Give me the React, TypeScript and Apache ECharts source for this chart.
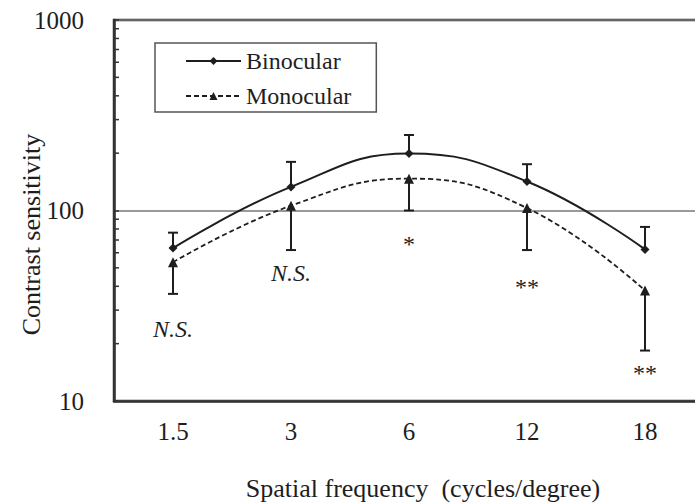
import React, { useEffect, useRef } from "react";
import * as echarts from "echarts";

const categories = ["1.5", "3", "6", "12", "18"];
const binocular = [63.5, 133, 199, 142, 62.5];
const monocular = [53.5, 106, 147, 103, 38];
const binocularUpper = [76.5, 180, 249, 175, 82];
const monocularLower = [36.5, 62, 100, 62, 18.4];
const yMinorTicks = [20, 30, 40, 50, 60, 70, 80, 90, 200, 300, 400, 500, 600, 700, 800, 900];
const annotationCats = [0, 1, 2, 3, 4];
const annotationLevels = [24, 47, 67, 39.5, 14];
const annotationTexts = ["N.S.", "N.S.", "*", "**", "**"];
const annotationItalic = [true, true, false, false, false];

const FONT = "Liberation Serif";
const INK = "#1e1e1e";

export default function App() {
  const ref = useRef<HTMLDivElement>(null);
  useEffect(() => {
    if (!ref.current) return;
    const chart = echarts.init(ref.current, undefined, { renderer: "svg" });

    const errRender = (params: any, api: any) => {
      const x = api.value(0);
      const p0 = api.coord([x, api.value(1)]);
      const p1 = api.coord([x, api.value(2)]);
      const st = { stroke: INK, lineWidth: 2 };
      return {
        type: "group",
        children: [
          { type: "line", shape: { x1: p0[0], y1: p0[1], x2: p1[0], y2: p1[1] }, style: st },
          { type: "line", shape: { x1: p1[0] - 5, y1: p1[1], x2: p1[0] + 5, y2: p1[1] }, style: st },
        ],
      };
    };

    chart.setOption({
      animation: false,
      backgroundColor: "#ffffff",
      textStyle: { fontFamily: FONT, color: INK },
      grid: {
        left: 114,
        top: 20,
        width: 590,
        height: 381,
        show: true,
        borderColor: "#333",
        borderWidth: 2.5,
        containLabel: false,
        outerBoundsMode: "none",
      },
      legend: {
        left: 155,
        top: 43,
        orient: "vertical",
        data: ["Binocular", "Monocular"],
        padding: [6, 25, 4, 30],
        itemGap: 11,
        itemWidth: 55,
        itemHeight: 10,
        borderColor: "#555",
        borderWidth: 1.5,
        borderRadius: 0,
        textStyle: { fontFamily: FONT, fontSize: 24, color: INK },
      },
      xAxis: {
        type: "category",
        data: categories,
        boundaryGap: true,
        axisLine: { show: true, lineStyle: { color: "#333", width: 2.5 } },
        axisTick: { show: false },
        axisLabel: { fontFamily: FONT, fontSize: 25, color: INK, margin: 18 },
        name: "Spatial frequency  (cycles/degree)",
        nameLocation: "middle",
        nameGap: 74,
        nameMoveOverlap: false,
        nameTextStyle: { fontFamily: FONT, fontSize: 26, color: INK, padding: [0, 0, 0, 28] },
      },
      yAxis: {
        type: "log",
        logBase: 10,
        min: 10,
        max: 1000,
        axisLine: { show: true, lineStyle: { color: "#333", width: 2.5 } },
        axisTick: { show: true, inside: true, length: 5, lineStyle: { color: "#333", width: 1.5 } },
        splitLine: { show: true, lineStyle: { color: "#777", width: 1.5 } },
        axisLabel: {
          fontFamily: FONT,
          fontSize: 25,
          color: INK,
          margin: 30,
          formatter: (v: number) => String(Math.round(v)),
        },
        name: "Contrast sensitivity",
        nameLocation: "middle",
        nameGap: 70,
        nameMoveOverlap: false,
        nameTextStyle: { fontFamily: FONT, fontSize: 26, color: INK, padding: [0, 48, 0, 0] },
      },
      series: [
        {
          type: "custom",
          name: "minorTicks",
          silent: true,
          z: 3,
          data: yMinorTicks.map((v) => [0, v]),
          renderItem: (params: any, api: any) => {
            const p = api.coord([0, api.value(1)]);
            const x0 = params.coordSys.x;
            return {
              type: "line",
              shape: { x1: x0, y1: p[1], x2: x0 + 5, y2: p[1] },
              style: { stroke: "#333", lineWidth: 1.5 },
            };
          },
        },
        {
          type: "custom",
          name: "binErr",
          silent: true,
          z: 2,
          data: binocular.map((v, i) => [i, v, binocularUpper[i]]),
          renderItem: errRender,
        },
        {
          type: "custom",
          name: "monErr",
          silent: true,
          z: 2,
          data: monocular.map((v, i) => [i, v, monocularLower[i]]),
          renderItem: errRender,
        },
        {
          type: "line",
          name: "Binocular",
          data: binocular,
          smooth: 0.45,
          z: 4,
          symbol: "diamond",
          symbolSize: 9,
          itemStyle: { color: INK },
          lineStyle: { color: INK, width: 2 },
        },
        {
          type: "line",
          name: "Monocular",
          data: monocular,
          smooth: 0.45,
          z: 4,
          symbol: "triangle",
          symbolSize: 10,
          itemStyle: { color: INK },
          lineStyle: { color: INK, width: 1.8, type: [5, 3] },
        },
        {
          type: "custom",
          name: "annotations",
          silent: true,
          z: 5,
          data: annotationCats.map((c, i) => [c, annotationLevels[i]]),
          renderItem: (params: any, api: any) => {
            const i = params.dataIndex;
            const p = api.coord([api.value(0), api.value(1)]);
            return {
              type: "text",
              x: p[0],
              y: p[1],
              style: {
                text: annotationTexts[i],
                fontFamily: FONT,
                fontSize: 24,
                fontStyle: annotationItalic[i] ? "italic" : "normal",
                fill: INK,
                align: "center",
                verticalAlign: "middle",
              },
            };
          },
        },
      ],
    });
    return () => chart.dispose();
  }, []);
  return (
    <div
      ref={ref}
      style={{ position: "absolute", left: 0, top: 0, width: 695, height: 504, background: "#fff" }}
    />
  );
}
